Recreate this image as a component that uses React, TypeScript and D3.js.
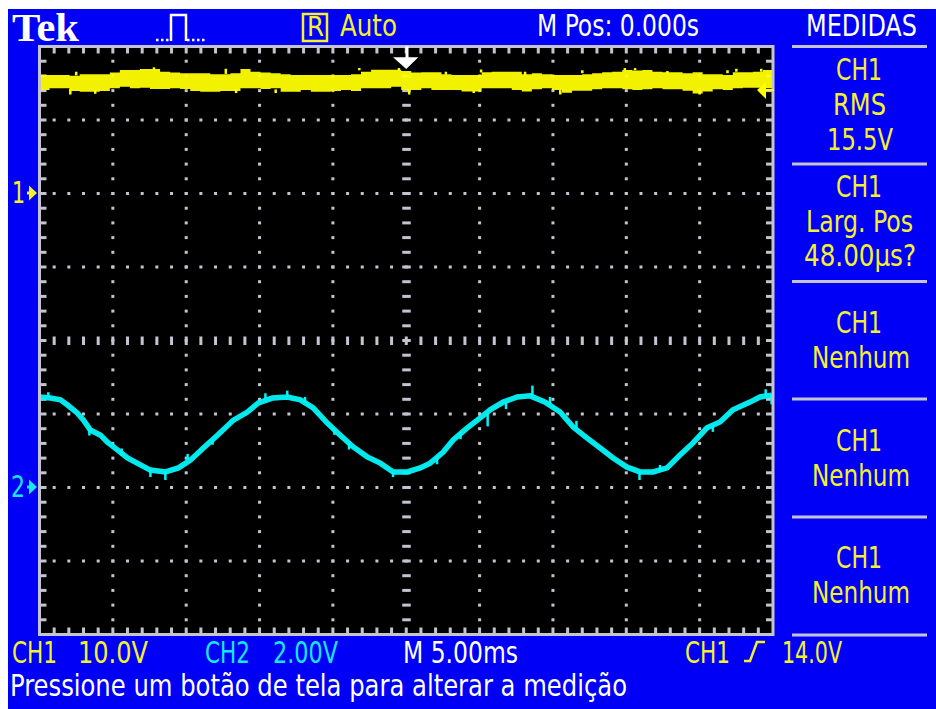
import React from "react";
import * as d3 from "d3";

// CH1 trace envelope (volts), one pair per equally spaced acquisition sample
const ch1Top = [16.05,16.05,16.05,15.96,16.14,16.14,16.14,16.41,16.73,16.73,16.87,16.87,16.5,16.41,16.28,16.28,16.28,16.14,16.14,16.28,16.87,16.5,16.41,16.28,16.14,16.05,16.05,16.05,16.05,16.05,16.05,16.14,16.5,16.78,16.78,16.78,16.6,16.41,16.42,16.42,16.14,16.05,16.05,16.05,16.42,16.5,16.5,16.5,16.14,16.28,16.14,16.05,16.05,16.05,16.14,16.28,16.42,16.5,16.73,16.65,16.73,16.5,16.42,16.42,16.28,16.42,16.14,16.14,16.05,16.42,16.42,16.5,16.73,16.05];
const ch1Bottom = [14.01,14.24,14.24,13.88,13.79,13.79,13.88,14.24,14.47,14.24,14.33,14.15,14.15,14.24,14.15,13.88,13.79,13.79,13.88,13.88,14.24,14.24,14.15,14.24,13.79,13.79,14.01,13.79,13.79,13.88,14.01,13.88,14.24,14.24,14.24,14.47,14.01,14.01,14.24,14.0,14.0,14.0,13.8,13.8,14.24,14.24,14.24,14.0,13.8,14.1,14.24,14.0,13.65,13.92,13.92,14.1,14.24,14.24,14.1,14.0,14.1,14.24,14.1,14.1,13.92,13.55,13.8,14.1,14.0,14.24,14.33,14.33,14.24,14.24];
// CH1 noise spikes
const ch1SpikeTime = [-22.9,-22.5,-21.2,-17.2,-12.3,-11.6,-8.9,-3.2,-0.5,0.2,2.7,4.6,5.1,8.1,10.5,12.0,14.9,15.6,17.8,20.0,21.9,22.5,24.2];
const ch1SpikeFrom = [14.2,16.0,14.0,16.8,16.2,14.1,14.1,16.7,16.6,14.0,16.1,14.0,16.4,16.0,14.0,16.3,16.7,16.7,16.2,14.0,16.3,16.5,16.5];
const ch1SpikeTo = [13.4,16.5,13.5,17.1,16.9,13.6,13.6,17.0,17.0,13.4,16.5,13.6,16.8,16.5,13.4,16.7,17.0,17.0,16.6,13.4,16.7,16.9,16.9];

// CH2 trace
const ch2Time = [-25,-24.25,-23.57,-23.09,-22.41,-22,-21.53,-20.84,-20.37,-19.69,-19,-18.12,-17.44,-16.42,-15.53,-14.71,-13.83,-12.87,-11.78,-10.83,-10.08,-9.13,-8.11,-7.22,-6.34,-5.38,-4.5,-3.61,-2.66,-1.77,-0.89,0.07,0.95,1.63,2.52,3.2,4.16,5.04,5.72,6.61,7.56,8.45,9.47,10.49,11.38,12.33,13.22,14.1,15.05,15.94,16.83,17.78,18.66,19.55,20.5,21.39,22.27,23.43,24.11,24.93];
const ch2Volts = [2.45,2.42,2.37,2.23,2.01,1.82,1.55,1.41,1.22,1.01,0.79,0.6,0.46,0.41,0.52,0.73,1.06,1.41,1.82,2.04,2.29,2.42,2.45,2.37,2.15,1.74,1.41,1.09,0.82,0.65,0.41,0.41,0.52,0.65,0.95,1.28,1.61,1.88,2.1,2.31,2.45,2.48,2.31,2.04,1.63,1.33,1.06,0.79,0.54,0.41,0.41,0.52,0.87,1.2,1.61,1.77,2.1,2.31,2.45,2.5];
// CH2 noise spikes
const spikeTime = [-24.4,-21.6,-19.4,-17.44,-16.42,-14.9,-13.2,-9.6,-8.11,-6.9,-4.9,-3.9,-0.9,2.1,3.7,5.55,6.8,8.6,9.8,11.6,15.9,17.3,20.9,24.5,24.9];
const spikeFrom = [2.45,1.6,1.05,0.46,0.41,0.75,1.3,2.4,2.45,2.3,1.6,1.2,0.41,0.85,1.5,2.0,2.31,2.48,2.25,1.6,0.41,0.45,1.7,2.45,2.5];
const spikeTo = [2.58,1.4,0.85,0.27,0.19,0.9,1.15,2.55,2.62,2.45,1.42,1.02,0.27,0.62,1.3,1.65,2.12,2.76,2.45,1.8,0.19,0.6,1.5,2.66,2.25];

const triggerVolts = 14;
const panels = [
  ["CH1", "RMS", "15.5V"],
  ["CH1", "Larg. Pos", "48.00µs?"],
  ["CH1", "Nenhum"],
  ["CH1", "Nenhum"],
  ["CH1", "Nenhum"],
];

const YEL = "#f4f030", CYA = "#19e6f5", WHT = "#ffffff", GR = "#c4c4d0", BLUE = "#0000f6";
const FONT = "'DejaVu Sans Condensed','DejaVu Sans',sans-serif";

const L = 39.5, R = 773, T = 46.5, B = 634.5;
const tx = d3.scaleLinear().domain([-25, 25]).range([L, R]);
const v1 = d3.scaleLinear().domain([0, 10]).range([193, 119.5]);
const v2 = d3.scaleLinear().domain([0, 2]).range([487, 413.5]);
const idx = d3.scaleLinear().domain([0, ch1Top.length - 1]).range([L, R]);
const minor = d3.range(0, 51).map((i) => tx(-25 + i));
const minorY = d3.range(0, 41).map((i) => T + ((B - T) * i) / 40);

const ch1Area = d3
  .area<number>()
  .x((_, i) => idx(i))
  .y0((_, i) => v1(ch1Bottom[i]))
  .y1((d) => v1(d))
  .curve(d3.curveStepAfter);
const ch2Line = d3
  .line<number>()
  .x((d) => tx(d))
  .y((_, i) => v2(ch2Volts[i]));

function T_({ x0, x1, y, s, c, children, fw }: any) {
  return (
    <text x={x0} y={y} fontSize={s} fill={c} fontFamily={FONT} fontWeight={fw ?? 400} textLength={x1 - x0} lengthAdjust="spacingAndGlyphs">
      {children}
    </text>
  );
}

const panelBase = [[80, 115, 150], [197, 232, 266], [333, 368], [451, 486], [568, 603]];
const panelSpan: Record<string, [number, number]> = {
  CH1: [836, 882], RMS: [833, 886], "15.5V": [827, 893], "Larg. Pos": [806, 913], "48.00µs?": [804, 916], Nenhum: [812, 910],
};
const panelRules = [46.5, 164, 281.5, 399, 517, 635];

export default function App() {
  return (
    <svg width={936} height={709} style={{ position: "absolute", left: 0, top: 0, display: "block", background: "#fff" }}>
      <rect x={8} y={9} width={928} height={700} fill={BLUE} />
      <rect x={L} y={T} width={R - L} height={B - T} fill="#000" />

      {/* graticule dots */}
      {d3.range(1, 8).filter((r) => r !== 4).map((r) =>
        minor.slice(1, -1).map((x, i) => (
          <rect key={`h${r}-${i}`} x={x - 1.5} y={minorY[r * 5] - 1.5} width={3} height={3} fill={GR} />
        ))
      )}
      {d3.range(1, 10).filter((c) => c !== 5).map((c) =>
        minorY.slice(1, -1).map((y, i) => (
          <rect key={`v${c}-${i}`} x={minor[c * 5] - 1.5} y={y - 1.5} width={3} height={3} fill={GR} />
        ))
      )}
      {/* centre cross */}
      {minorY.slice(1, -1).map((y, i) => (
        <rect key={`cx${i}`} x={tx(0) - 4} y={y - 1.5} width={8.5} height={3} fill={GR} />
      ))}
      {minor.slice(1, -1).map((x, i) => (
        <rect key={`cy${i}`} x={x - 1.5} y={minorY[20] - 4} width={3} height={8.5} fill={GR} />
      ))}
      {/* edge ticks */}
      {minor.slice(1, -1).map((x, i) => (
        <g key={`te${i}`} fill={GR}>
          <rect x={x - 1.5} y={T} width={3} height={7} />
          <rect x={x - 1.5} y={B - 7} width={3} height={7} />
        </g>
      ))}
      {minorY.slice(1, -1).map((y, i) => (
        <g key={`le${i}`} fill={GR}>
          <rect x={L} y={y - 1.5} width={7} height={3} />
          <rect x={R - 7} y={y - 1.5} width={7} height={3} />
        </g>
      ))}

      {/* traces */}
      <path d={ch1Area(ch1Top) ?? ""} fill="#ffff00" opacity={0.95} />
      {ch1SpikeTime.map((t, i) => (
        <line key={i} x1={tx(t)} x2={tx(t)} y1={v1(ch1SpikeFrom[i])} y2={v1(ch1SpikeTo[i])} stroke="#ffff00" strokeWidth={2.5} />
      ))}
      <path d={ch2Line(ch2Time) ?? ""} fill="none" stroke="#00f4f8" strokeWidth={5.5} opacity={0.96} />
      {spikeTime.map((t, i) => (
        <line key={i} x1={tx(t)} x2={tx(t)} y1={v2(spikeFrom[i])} y2={v2(spikeTo[i])} stroke="#00f4f8" strokeWidth={2.5} />
      ))}

      <rect x={L} y={T} width={R - L} height={B - T} fill="none" stroke={GR} strokeWidth={3} />

      {/* markers */}
      <path d={`M${tx(0)},47V58H395L${tx(0)},68L416.5,58H${tx(0) + 1.5}V47Z`} fill={WHT} stroke={WHT} strokeWidth={1.5} />
      <path d={`M${R + 1},${v1(triggerVolts) - 1}H766V${v1(triggerVolts) - 8}L757,${v1(triggerVolts)}L766,${v1(triggerVolts) + 9}V${v1(triggerVolts) + 1}H${R + 1}Z`} fill="#ffff00" />
      <T_ x0={12} x1={25} y={203} s={30} c={YEL}>1</T_>
      <path d={`M27,${v1(0) - 1.5}h2v-6l8,7.5l-8,7.5v-6h-2z`} fill={YEL} />
      <T_ x0={11} x1={25} y={497} s={30} c={CYA}>2</T_>
      <path d={`M27,${v2(0) - 1.5}h2v-6l8,7.5l-8,7.5v-6h-2z`} fill={CYA} />

      {/* header */}
      <text x={12} y={41} fontFamily="'Liberation Serif',serif" fontWeight={700} fontSize={40} fill={WHT} textLength={67} lengthAdjust="spacingAndGlyphs">Tek</text>
      <path d="M171,41V15H186V41" fill="none" stroke={WHT} strokeWidth={2.5} />
      <path d="M156,40H171M187,40H207" fill="none" stroke={WHT} strokeWidth={2.5} strokeDasharray="2.5 2.5" />
      <rect x={303} y={14} width={24} height={27} fill="none" stroke={YEL} strokeWidth={2.5} />
      <T_ x0={307} x1={324} y={36} s={27} c={YEL}>R</T_>
      <T_ x0={340} x1={397} y={36} s={31} c={YEL}>Auto</T_>
      <T_ x0={537} x1={699} y={36} s={30} c={WHT}>M Pos: 0.000s</T_>
      <T_ x0={806} x1={917} y={36} s={30} c={WHT}>MEDIDAS</T_>

      {/* side panel */}
      {panelRules.map((y) => (
        <rect key={y} x={792} y={y - 1.5} width={135} height={3} fill={GR} />
      ))}
      {panels.map((lines, p) =>
        lines.map((txt, k) => (
          <T_ key={`${p}-${k}`} x0={panelSpan[txt][0]} x1={panelSpan[txt][1]} y={panelBase[p][k]} s={31} c={YEL}>
            {txt}
          </T_>
        ))
      )}

      {/* footer */}
      <T_ x0={12} x1={57} y={663} s={31} c={YEL}>CH1</T_>
      <T_ x0={78} x1={148} y={663} s={31} c={YEL}>10.0V</T_>
      <T_ x0={205} x1={250} y={663} s={31} c={CYA}>CH2</T_>
      <T_ x0={273} x1={338} y={663} s={31} c={CYA}>2.00V</T_>
      <T_ x0={403} x1={518} y={663} s={31} c={WHT}>M 5.00ms</T_>
      <T_ x0={685} x1={730} y={663} s={31} c={YEL}>CH1</T_>
      <path d="M744,661H750L757,642H765" fill="none" stroke={YEL} strokeWidth={2.5} />
      <T_ x0={782} x1={842} y={663} s={31} c={YEL}>14.0V</T_>
      <T_ x0={10} x1={627} y={696} s={30} c={WHT}>Pressione um botão de tela para alterar a medição</T_>
    </svg>
  );
}
